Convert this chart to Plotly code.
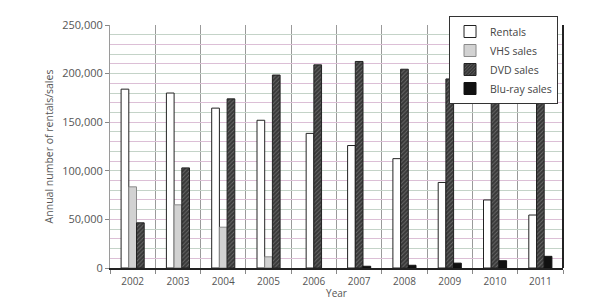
import plotly.graph_objects as go

years = ["2002", "2003", "2004", "2005", "2006", "2007", "2008", "2009", "2010", "2011"]
rentals = [184000, 180000, 164500, 152000, 138500, 126000, 112500, 88000, 70000, 54500]
vhs_sales = [83500, 65000, 42000, 11500, 0, 0, 0, 0, 0, 0]
dvd_sales = [46500, 103000, 174000, 198500, 209000, 212500, 204500, 194500, 185000, 177000]
bluray_sales = [0, 0, 0, 0, 0, 1800, 2800, 5000, 7500, 12000]
series_names = ["Rentals", "VHS sales", "DVD sales", "Blu-ray sales"]
y_ticks = [0, 50000, 100000, 150000, 200000, 250000]

series = [rentals, vhs_sales, dvd_sales, bluray_sales]
W = 0.17  # bar width in category units

# only the series present in a year are drawn, centred on the year
offsets = [[None] * len(years) for _ in series]
for i in range(len(years)):
    present = [s for s in range(len(series)) if series[s][i] > 0]
    start = -len(present) * W / 2
    for k, s in enumerate(present):
        offsets[s][i] = start + k * W

styles = [
    dict(color="white", line=dict(color="#222", width=1)),
    dict(color="#d2d2d2", line=dict(color="#8a8a8a", width=1)),
    dict(color="#444", line=dict(color="#222", width=1),
         pattern=dict(shape="/", fgcolor="#a0a0a0", bgcolor="#383838", size=3, solidity=0.3)),
    dict(color="#111", line=dict(color="#111", width=1)),
]

fig = go.Figure()
for s, name in enumerate(series_names):
    ys = [v if v > 0 else None for v in series[s]]
    offs = [o if o is not None else 0 for o in offsets[s]]
    fig.add_trace(go.Bar(x=years, y=ys, name=name, width=[W] * len(years),
                         offset=offs, marker=styles[s]))

fig.add_trace(go.Scatter(x=[], y=[], yaxis="y2", showlegend=False, hoverinfo="skip"))
fig.add_trace(go.Scatter(x=[], y=[], yaxis="y3", showlegend=False, hoverinfo="skip"))

font = "Open Sans, sans-serif"
fig.update_layout(
    width=613, height=306,
    margin=dict(l=110, r=50, t=25, b=38, autoexpand=False),
    paper_bgcolor="white", plot_bgcolor="white",
    barmode="overlay",
    font=dict(family=font, size=11, color="#555"),
    xaxis=dict(
        type="category", showline=True, linecolor="#222", linewidth=2,
        ticks="outside", tickson="boundaries", ticklen=4, tickcolor="#888",
        showgrid=True, gridcolor="#9a9a9a", gridwidth=1, automargin=False,
        tickfont=dict(size=10, color="#555"), ticklabelstandoff=3,
        title=dict(text="Year", font=dict(size=10, color="#555"), standoff=3),
    ),
    yaxis=dict(
        range=[0, 250000], type="linear", tick0=10000, dtick=20000,
        showgrid=True, gridcolor="#dcbfd6", gridwidth=1,
        showticklabels=False, ticks="", zeroline=False, showline=False,
    ),
    yaxis2=dict(
        range=[0, 250000], type="linear", overlaying="y", tick0=0, dtick=20000,
        showgrid=True, gridcolor="#c4d3c8", gridwidth=1,
        showticklabels=False, ticks="", zeroline=False, showline=False,
    ),
    yaxis3=dict(
        range=[0, 250000], type="linear", overlaying="y", side="left",
        tickmode="array", tickvals=y_ticks, tickformat=",d", automargin=False,
        showgrid=False, zeroline=False, showline=True, linecolor="#9a9a9a",
        ticks="outside", ticklen=4, tickcolor="#888",
        tickfont=dict(size=11, color="#555"),
        title=dict(text="Annual number of rentals/sales",
                   font=dict(size=10.5, color="#555"), standoff=6),
    ),
    legend=dict(
        x=0.989, xanchor="right", y=1.037, yanchor="top",
        bgcolor="white", bordercolor="#333", borderwidth=1,
        font=dict(size=10.5, color="#444"), itemwidth=30,
        tracegroupgap=0, traceorder="normal",
    ),
    shapes=[dict(type="line", xref="paper", yref="paper", x0=1, x1=1, y0=0, y1=1,
                 line=dict(color="#222", width=2))],
)

fig.write_html("out.html")
